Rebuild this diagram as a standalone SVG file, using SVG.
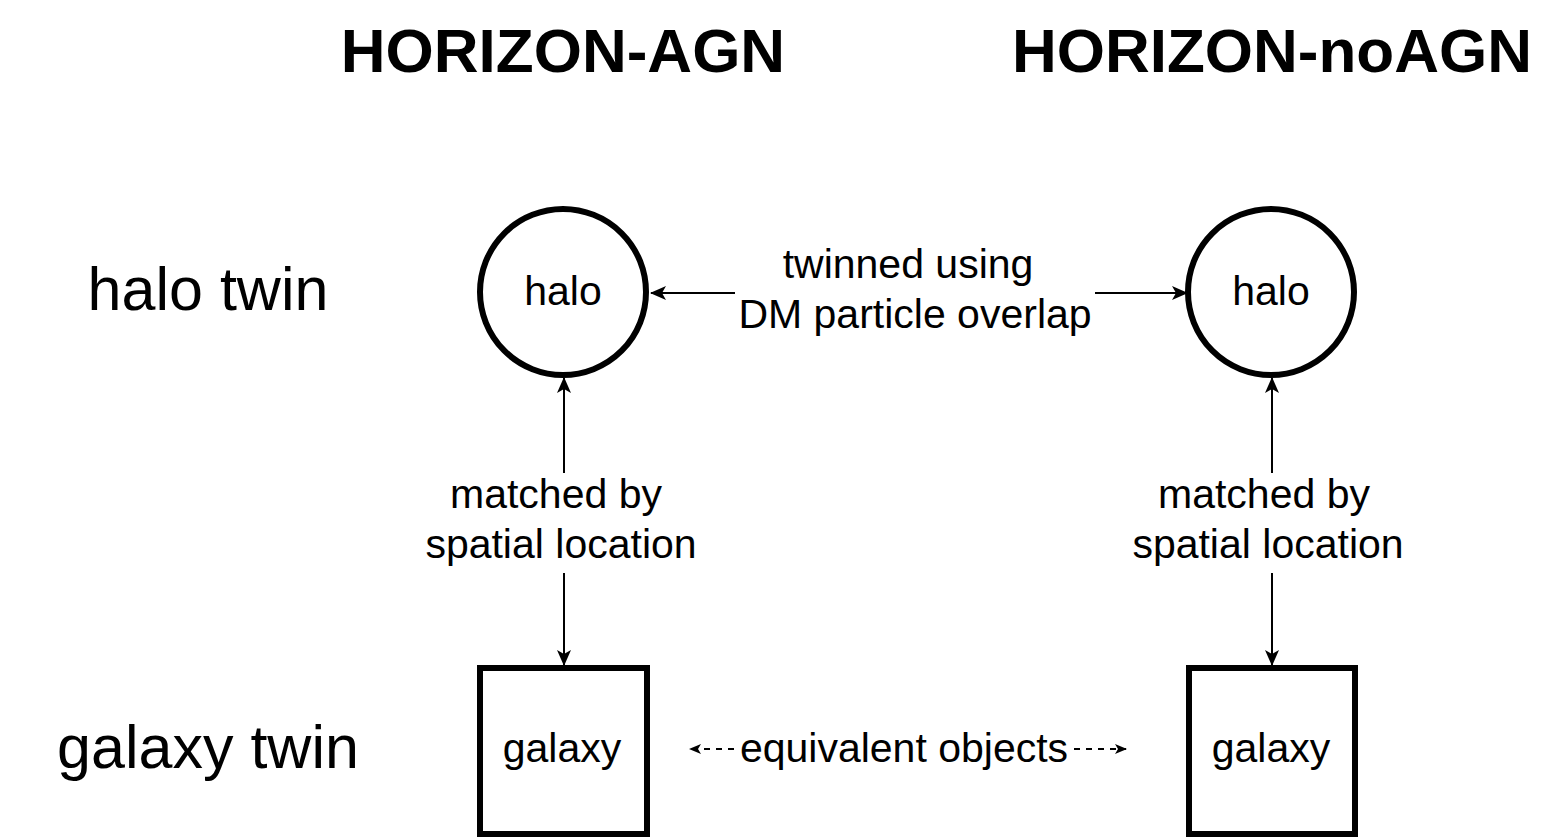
<svg xmlns="http://www.w3.org/2000/svg" width="1546" height="840" viewBox="0 0 1546 840">
<style>
.t{font-family:"Liberation Sans",Arial,sans-serif;fill:#000}
.title{font-size:62px;font-weight:bold}
.row{font-size:61px}
.lbl{font-size:41px}
.node{fill:#fff;stroke:#000;stroke-width:6}
.con{fill:none;stroke:#000;stroke-width:2}
.dash{stroke-dasharray:6 6}
</style>
<defs>
<marker id="ah" viewBox="0 0 16 14" refX="15" refY="7" markerWidth="16" markerHeight="14" markerUnits="userSpaceOnUse" orient="auto-start-reverse">
<path d="M0,0 L16,7 L0,14 L4,7 z" fill="#000"/>
</marker>
<marker id="ahs" viewBox="0 0 12 10" refX="11" refY="5" markerWidth="12" markerHeight="10" markerUnits="userSpaceOnUse" orient="auto-start-reverse">
<path d="M0,0 L12,5 L0,10 L3,5 z" fill="#000"/>
</marker>
</defs>
<rect width="1546" height="840" fill="#fff"/>
<g id="titles">
<text class="t title" x="563" y="72" text-anchor="middle">HORIZON-AGN</text>
<text class="t title" x="1272" y="72" text-anchor="middle">HORIZON-noAGN</text>
</g>
<g id="rowlabels">
<text class="t row" x="208" y="310" text-anchor="middle">halo twin</text>
<text class="t row" x="208" y="768" text-anchor="middle">galaxy twin</text>
</g>
<g id="connectors">
<line class="con" x1="735" y1="293" x2="651" y2="293" marker-end="url(#ah)"/>
<line class="con" x1="1095" y1="293" x2="1187" y2="293" marker-end="url(#ah)"/>
<line class="con" x1="564" y1="473" x2="564" y2="378" marker-end="url(#ah)"/>
<line class="con" x1="564" y1="573" x2="564" y2="665" marker-end="url(#ah)"/>
<line class="con" x1="1272" y1="473" x2="1272" y2="378" marker-end="url(#ah)"/>
<line class="con" x1="1272" y1="573" x2="1272" y2="665" marker-end="url(#ah)"/>
<line class="con dash" x1="734" y1="749" x2="690" y2="749" marker-end="url(#ahs)"/>
<line class="con dash" x1="1074" y1="749" x2="1126" y2="749" marker-end="url(#ahs)"/>
<text class="t lbl" x="908" y="278" text-anchor="middle">twinned using</text>
<text class="t lbl" x="915" y="328" text-anchor="middle">DM particle overlap</text>
<text class="t lbl" x="556" y="508" text-anchor="middle">matched by</text>
<text class="t lbl" x="561" y="558" text-anchor="middle">spatial location</text>
<text class="t lbl" x="1264" y="508" text-anchor="middle">matched by</text>
<text class="t lbl" x="1268" y="558" text-anchor="middle">spatial location</text>
<text class="t lbl" x="904" y="762" text-anchor="middle">equivalent objects</text>
</g>
<g id="halo-agn">
<circle class="node" cx="563" cy="292" r="83"/>
<text class="t lbl" x="563" y="305" text-anchor="middle">halo</text>
</g>
<g id="halo-noagn">
<circle class="node" cx="1271" cy="292" r="83"/>
<text class="t lbl" x="1271" y="305" text-anchor="middle">halo</text>
</g>
<g id="galaxy-agn">
<rect class="node" x="480" y="668" width="167" height="166"/>
<text class="t lbl" x="562" y="762" text-anchor="middle">galaxy</text>
</g>
<g id="galaxy-noagn">
<rect class="node" x="1189" y="668" width="166" height="166"/>
<text class="t lbl" x="1271" y="762" text-anchor="middle">galaxy</text>
</g>
</svg>
